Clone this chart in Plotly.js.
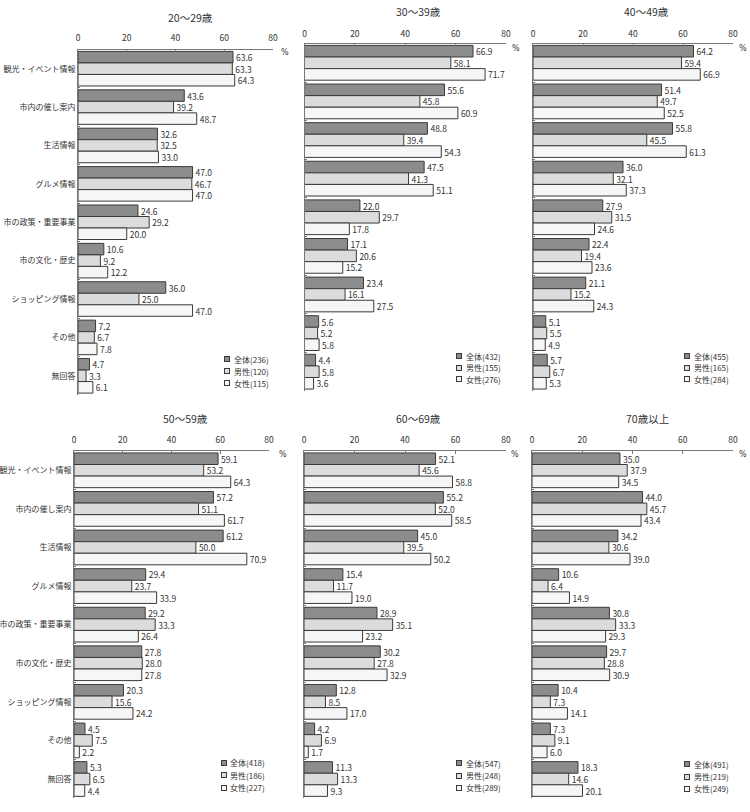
<!DOCTYPE html>
<html>
<head>
<meta charset="utf-8">
<script src="https://cdn.plot.ly/plotly-3.0.1.min.js"></script>
<style>
  html, body { margin: 0; padding: 0; background: #fff; }
  #chart { width: 750px; height: 812px; }
</style>
</head>
<body>
<div id="chart"></div>
<script>
// Information sources used, by age group (%, multiple answers)
const categories = ['観光・イベント情報', '市内の催し案内', '生活情報', 'グルメ情報',
  '市の政策・重要事業', '市の文化・歴史', 'ショッピング情報', 'その他', '無回答'];
const ageGroups = ['20～29歳', '30～39歳', '40～49歳', '50～59歳', '60～69歳', '70歳以上'];
const seriesNames = ['全体', '男性', '女性'];
const tickValues = [0, 20, 40, 60, 80];

// respondents per group: 全体, 男性, 女性
const n20 = [236, 120, 115];
const n30 = [432, 155, 276];
const n40 = [455, 165, 284];
const n50 = [418, 186, 227];
const n60 = [547, 248, 289];
const n70 = [491, 219, 249];

const total20 = [63.6, 43.6, 32.6, 47.0, 24.6, 10.6, 36.0, 7.2, 4.7];
const male20 = [63.3, 39.2, 32.5, 46.7, 29.2, 9.2, 25.0, 6.7, 3.3];
const female20 = [64.3, 48.7, 33.0, 47.0, 20.0, 12.2, 47.0, 7.8, 6.1];

const total30 = [66.9, 55.6, 48.8, 47.5, 22.0, 17.1, 23.4, 5.6, 4.4];
const male30 = [58.1, 45.8, 39.4, 41.3, 29.7, 20.6, 16.1, 5.2, 5.8];
const female30 = [71.7, 60.9, 54.3, 51.1, 17.8, 15.2, 27.5, 5.8, 3.6];

const total40 = [64.2, 51.4, 55.8, 36.0, 27.9, 22.4, 21.1, 5.1, 5.7];
const male40 = [59.4, 49.7, 45.5, 32.1, 31.5, 19.4, 15.2, 5.5, 6.7];
const female40 = [66.9, 52.5, 61.3, 37.3, 24.6, 23.6, 24.3, 4.9, 5.3];

const total50 = [59.1, 57.2, 61.2, 29.4, 29.2, 27.8, 20.3, 4.5, 5.3];
const male50 = [53.2, 51.1, 50.0, 23.7, 33.3, 28.0, 15.6, 7.5, 6.5];
const female50 = [64.3, 61.7, 70.9, 33.9, 26.4, 27.8, 24.2, 2.2, 4.4];

const total60 = [52.1, 55.2, 45.0, 15.4, 28.9, 30.2, 12.8, 4.2, 11.3];
const male60 = [45.6, 52.0, 39.5, 11.7, 35.1, 27.8, 8.5, 6.9, 13.3];
const female60 = [58.8, 58.5, 50.2, 19.0, 23.2, 32.9, 17.0, 1.7, 9.3];

const total70 = [35.0, 44.0, 34.2, 10.6, 30.8, 29.7, 10.4, 7.3, 18.3];
const male70 = [37.9, 45.7, 30.6, 6.4, 33.3, 28.8, 7.3, 9.1, 14.6];
const female70 = [34.5, 43.4, 39.0, 14.9, 29.3, 30.9, 14.1, 6.0, 20.1];

const panelValues = [
  [total20, male20, female20],
  [total30, male30, female30],
  [total40, male40, female40],
  [total50, male50, female50],
  [total60, male60, female60],
  [total70, male70, female70]
];
const panelCounts = [n20, n30, n40, n50, n60, n70];

// ---- styling and panel geometry (pixels in a 750x812 page) ----
const W = 750, H = 812;
const FONT = '"Noto Sans CJK JP", "Noto Sans", sans-serif';
const fills = ['#8c8c8c', '#dcdcdc', '#f6f6f6'];
const edge = '#3a3a3a';
const textCol = '#333333';
const axisCol = '#777777';

const panels = [
  { x0: 78,    x1: 273, y0: 49.5, y1: 395,   standoff: 4, title: [190, 17],    pct: [285, 52],  leg: [227, 359,     12.2], labels: true },
  { x0: 304.5, x1: 506, y0: 43.5, y1: 391,   standoff: 2, title: [418, 12],    pct: [516, 48],  leg: [459, 356,     11.7], labels: false },
  { x0: 533,   x1: 733, y0: 43.5, y1: 391,   standoff: 2, title: [646, 12],    pct: [743, 48],  leg: [687, 356,     11.7], labels: false },
  { x0: 74,    x1: 269, y0: 451,  y1: 798.3, standoff: 4, title: [185, 418.5], pct: [283, 455], leg: [223.5, 762.7, 12.5], labels: true },
  { x0: 304,   x1: 506, y0: 451,  y1: 798.3, standoff: 4, title: [418, 418.5], pct: [515, 455], leg: [459, 763.3,   12.2], labels: false },
  { x0: 532,   x1: 733, y0: 451,  y1: 798.3, standoff: 4, title: [647, 418.5], pct: [743, 455], leg: [687, 764.3,   12.2], labels: false }
];

const px = x => x / W;
const py = y => 1 - y / H;

const data = [];
const layout = {
  width: W, height: H,
  margin: { l: 0, r: 0, t: 0, b: 0 },
  paper_bgcolor: '#ffffff',
  plot_bgcolor: '#ffffff',
  font: { family: FONT, color: textCol, size: 9 },
  barmode: 'group',
  bargap: 0.1,
  bargroupgap: 0,
  showlegend: false,
  annotations: []
};

panels.forEach((p, i) => {
  const k = i === 0 ? '' : String(i + 1);
  const xa = 'x' + k, ya = 'y' + k;

  panelValues[i].forEach((vals, s) => {
    data.push({
      type: 'bar',
      orientation: 'h',
      name: seriesNames[s],
      x: vals,
      y: categories,
      xaxis: xa,
      yaxis: ya,
      marker: { color: fills[s], line: { color: edge, width: 1 } },
      texttemplate: '%{x:.1f}',
      textposition: 'outside',
      textfont: { family: FONT, size: 8.5, color: textCol },
      constraintext: 'none',
      cliponaxis: false,
      hoverinfo: 'skip'
    });
  });

  layout['xaxis' + k] = {
    domain: [px(p.x0), px(p.x1)],
    anchor: ya,
    side: 'top',
    range: [0, 80],
    tickmode: 'array',
    tickvals: tickValues,
    ticktext: tickValues.map(String),
    ticks: 'inside',
    ticklen: 3,
    tickcolor: axisCol,
    ticklabelstandoff: p.standoff,
    showline: true,
    linecolor: axisCol,
    linewidth: 1,
    showgrid: false,
    zeroline: false,
    tickfont: { family: FONT, size: 8.5, color: textCol },
    fixedrange: true
  };
  layout['yaxis' + k] = {
    domain: [py(p.y1), py(p.y0)],
    anchor: xa,
    type: 'category',
    categoryorder: 'array',
    categoryarray: categories,
    autorange: 'reversed',
    showline: true,
    linecolor: axisCol,
    linewidth: 1,
    ticks: 'inside',
    tickson: 'boundaries',
    ticklen: 2,
    tickcolor: axisCol,
    showgrid: false,
    zeroline: false,
    showticklabels: p.labels,
    tickfont: { family: FONT, size: 8, color: textCol },
    fixedrange: true
  };

  // panel title
  layout.annotations.push({
    xref: 'paper', yref: 'paper', x: px(p.title[0]), y: py(p.title[1]),
    xanchor: 'center', yanchor: 'middle', showarrow: false,
    text: ageGroups[i], font: { family: FONT, size: 10.5, color: textCol }
  });
  // unit
  layout.annotations.push({
    xref: 'paper', yref: 'paper', x: px(p.pct[0]), y: py(p.pct[1]),
    xanchor: 'center', yanchor: 'middle', showarrow: false,
    text: '%', font: { family: '"DejaVu Sans", sans-serif', size: 8, color: textCol }
  });
  // legend: swatch box + label with respondent count
  seriesNames.forEach((nm, s) => {
    const yy = p.leg[1] + s * p.leg[2];
    layout.annotations.push({
      xref: 'paper', yref: 'paper', x: px(p.leg[0]), y: py(yy),
      xanchor: 'center', yanchor: 'middle', showarrow: false,
      text: ' ', font: { size: 1 }, width: 4, height: 4,
      bgcolor: fills[s], bordercolor: edge, borderwidth: 1, borderpad: 0
    });
    layout.annotations.push({
      xref: 'paper', yref: 'paper', x: px(p.leg[0] + 5), y: py(yy),
      xanchor: 'left', yanchor: 'middle', showarrow: false,
      text: nm + '(' + panelCounts[i][s] + ')',
      font: { family: FONT, size: 8, color: textCol }
    });
  });
});

Plotly.newPlot('chart', data, layout, { staticPlot: true, displayModeBar: false });
</script>
</body>
</html>
